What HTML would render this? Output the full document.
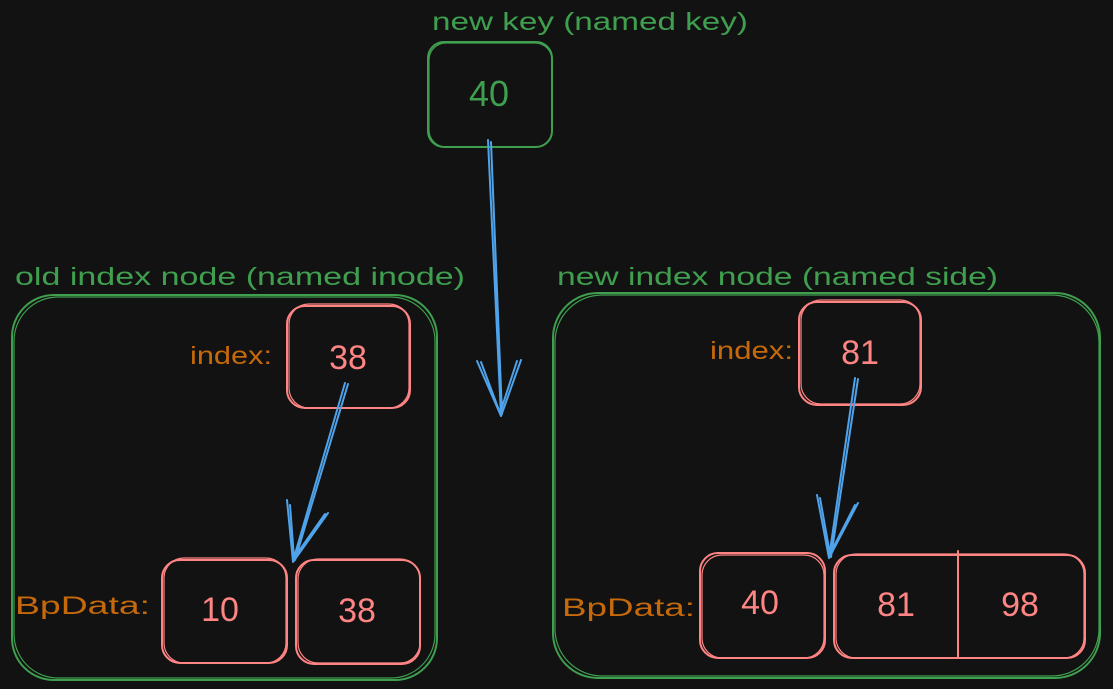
<!DOCTYPE html>
<html><head><meta charset="utf-8"><style>
html,body{margin:0;padding:0;background:#121212;}
svg{display:block}
text{font-family:"Liberation Sans","DejaVu Sans",sans-serif;}
</style></head><body>
<svg width="1113" height="689" viewBox="0 0 1113 689" xmlns="http://www.w3.org/2000/svg">
<rect width="1113" height="689" fill="#121212"/>
<g fill="none" stroke-linecap="round" stroke-linejoin="round">
<!-- green boxes -->
<g stroke="#3f9f4f" stroke-width="2">
<rect x="428" y="42" width="124" height="105" rx="16"/>
<rect x="429" y="43" width="123" height="104" rx="17" stroke-width="1.2"/>
<rect x="12" y="295" width="425" height="385" rx="42"/>
<rect x="14" y="297" width="421" height="381" rx="44" stroke-width="1.2"/>
<rect x="553" y="293" width="547" height="385" rx="45"/>
<rect x="555" y="295" width="544" height="381" rx="47" stroke-width="1.2"/>
</g>
<!-- red boxes -->
<g stroke="#ff8585" stroke-width="2">
<rect x="287" y="306" width="123" height="102" rx="18"/>
<rect x="289" y="304" width="120" height="104" rx="20" stroke-width="1.2"/>
<rect x="162" y="560" width="125" height="103" rx="18"/>
<rect x="164" y="558" width="122" height="105" rx="20" stroke-width="1.2"/>
<rect x="296" y="560" width="124" height="104" rx="18"/>
<rect x="298" y="559" width="122" height="104" rx="20" stroke-width="1.2"/>
<rect x="799" y="302" width="122" height="103" rx="18"/>
<rect x="801" y="300" width="119" height="104" rx="20" stroke-width="1.2"/>
<rect x="700" y="553" width="125" height="105" rx="18"/>
<rect x="702" y="555" width="122" height="103" rx="20" stroke-width="1.2"/>
<rect x="834" y="555" width="251" height="103" rx="18"/>
<rect x="836" y="554" width="248" height="104" rx="20" stroke-width="1.2"/>
<line x1="958" y1="551" x2="958" y2="657"/>
</g>
<!-- blue arrows -->
<g stroke="#4ea3ea" stroke-width="2">
<path d="M488 140 L501 416 M491 142 L502 414"/>
<path d="M477 361 L501 416 L521 360 M481 362 L500 413 L517 361"/>
<path d="M345 383 L293 561 M348 384 L295 560"/>
<path d="M287 500 L293 562 L328 513 M290 505 L294 558 L325 514"/>
<path d="M855 378 L829 558 M858 379 L831 557"/>
<path d="M817 495 L829 558 L858 503 M820 498 L830 554 L855 505"/>
</g>
</g>
<!-- text -->
<g font-size="25" fill="#3f9f4f">
<text x="432" y="30" textLength="316" lengthAdjust="spacingAndGlyphs">new key (named key)</text>
<text x="15" y="285" textLength="450" lengthAdjust="spacingAndGlyphs">old index node (named inode)</text>
<text x="557" y="285" textLength="441" lengthAdjust="spacingAndGlyphs">new index node (named side)</text>
</g>
<text x="489" y="106" font-size="36" fill="#3f9f4f" text-anchor="middle">40</text>
<g font-size="25" fill="#c6690a">
<text x="190" y="364" textLength="82" lengthAdjust="spacingAndGlyphs">index:</text>
<text x="710" y="359" textLength="83" lengthAdjust="spacingAndGlyphs">index:</text>
<text x="15" y="614" textLength="135" lengthAdjust="spacingAndGlyphs">BpData:</text>
<text x="562" y="616" textLength="133" lengthAdjust="spacingAndGlyphs">BpData:</text>
</g>
<g font-size="34" fill="#ff8585" text-anchor="middle">
<text x="348" y="369">38</text>
<text x="220" y="621">10</text>
<text x="357" y="622">38</text>
<text x="860" y="364">81</text>
<text x="760" y="614">40</text>
<text x="896" y="616">81</text>
<text x="1020" y="616">98</text>
</g>
</svg>
</body></html>
